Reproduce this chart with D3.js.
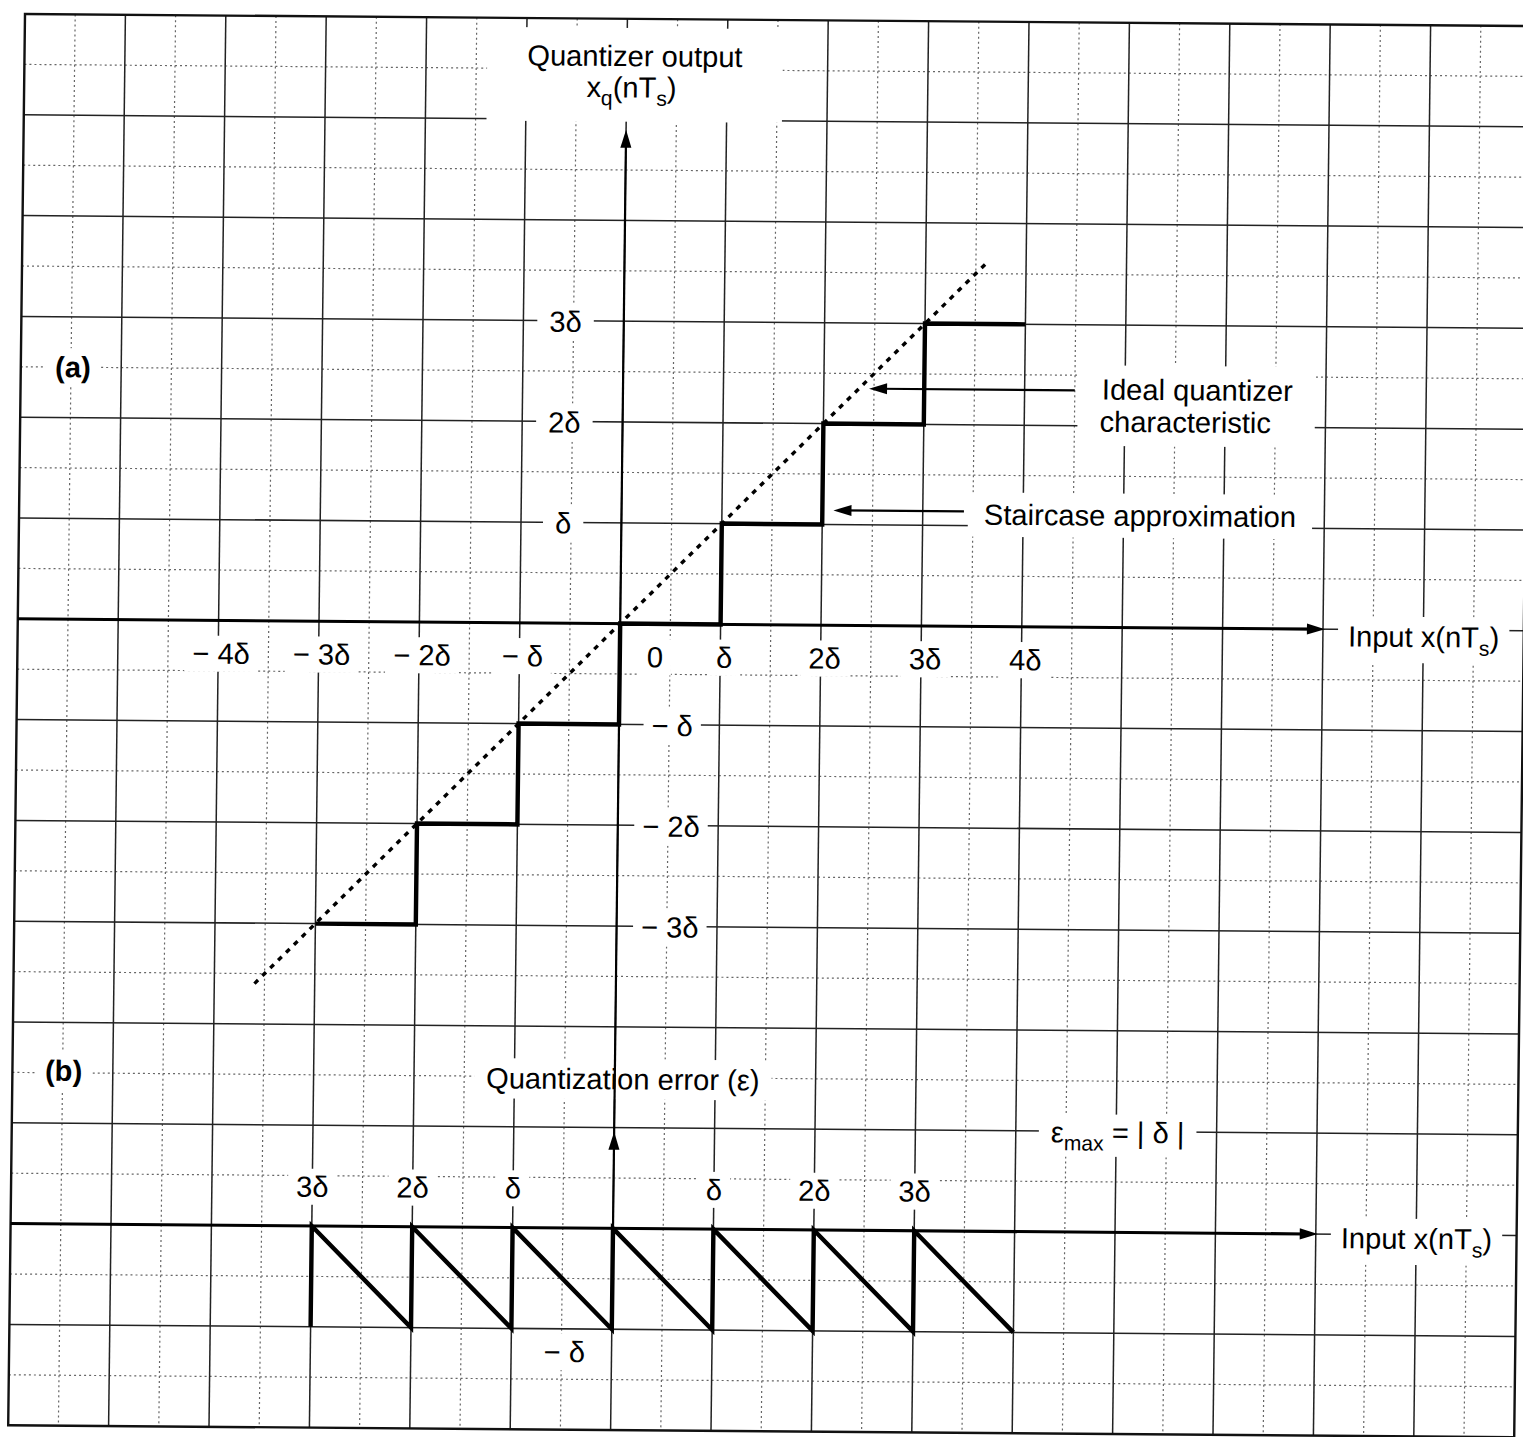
<!DOCTYPE html>
<html><head><meta charset="utf-8">
<script src="https://cdn.jsdelivr.net/npm/d3@7"></script>
<style>
html,body{margin:0;padding:0;background:#fff;}
svg{display:block;}
text{font-family:"Liberation Sans", Arial, Helvetica, sans-serif; fill:#000;}
</style></head><body>
<svg id="chart" width="1523" height="1437"></svg>
<script>
// ---------- data (in units of the step size δ) ----------
const stairX = [-3, -2, -1, 0, 1, 2, 3, 4];
const stairY = [-3, -2, -1, 0, 1, 2, 3, 3];
const idealX = [-3.6, 3.6];
const idealY = [-3.6, 3.6];
const errX = [-3, -3, -2, -2, -1, -1, 0, 0, 1, 1, 2, 2, 3, 3, 4];
const errY = [-1, 0, -1, 0, -1, 0, -1, 0, -1, 0, -1, 0, -1, 0, -1];
const xTicksA = [-4, -3, -2, -1, 0, 1, 2, 3, 4];
const xTickLabelsA = ["\u2212 4δ", "\u2212 3δ", "\u2212 2δ", "\u2212 δ", "0", "δ", "2δ", "3δ", "4δ"];
const yTicksA = [3, 2, 1, -1, -2, -3];
const yTickLabelsA = ["3δ", "2δ", "δ", "\u2212 δ", "\u2212 2δ", "\u2212 3δ"];
const xTicksB = [-3, -2, -1, 1, 2, 3];
const xTickLabelsB = ["3δ", "2δ", "δ", "δ", "2δ", "3δ"];
const yTicksB = [-1];
const yTickLabelsB = ["\u2212 δ"];

// ---------- setup ----------
const svg = d3.select('#chart');
svg.append('rect').attr('width', 1523).attr('height', 1437).attr('fill', '#fff');
// graph paper as scanned: slightly skewed sheet
const paper = svg.append('g').attr('transform', 'matrix(1.004,0.008,-0.012,1.008,25,14)');
const gGrid = paper.append('g');
const gBox = paper.append('g');
const gMark = paper.append('g');
const gText = paper.append('g');

const W = 1500, H = 1400;
const x = d3.scaleLinear().domain([-6, 9]).range([0, W]);
const yA = d3.scaleLinear().domain([6, -8]).range([0, H]);
const yB = d3.scaleLinear().domain([0, -1]).range([1200, 1300]);

// ---------- graph paper ----------
d3.range(50, W, 100).forEach(u => gGrid.append('line').attr('x1', u).attr('x2', u).attr('y1', 0).attr('y2', H)
  .attr('stroke', '#666').attr('stroke-width', 1.2).attr('stroke-dasharray', '2,3'));
d3.range(50, H, 100).forEach(v => gGrid.append('line').attr('x1', 0).attr('x2', W).attr('y1', v).attr('y2', v)
  .attr('stroke', '#666').attr('stroke-width', 1.2).attr('stroke-dasharray', '2,3'));
d3.range(100, W, 100).forEach(u => gGrid.append('line').attr('x1', u).attr('x2', u).attr('y1', 0).attr('y2', H)
  .attr('stroke', '#222').attr('stroke-width', 1.5));
d3.range(100, H, 100).forEach(v => gGrid.append('line').attr('x1', 0).attr('x2', W).attr('y1', v).attr('y2', v)
  .attr('stroke', '#222').attr('stroke-width', 1.5));
gGrid.append('rect').attr('x', 0).attr('y', 0).attr('width', W).attr('height', H)
  .attr('fill', 'none').attr('stroke', '#111').attr('stroke-width', 2.4);

// ---------- text helpers ----------
function addText(u, v, parts, opt = {}) {
  const size = opt.size || 29;
  const t = gText.append('text').attr('x', u).attr('y', v)
    .attr('text-anchor', opt.anchor || 'middle')
    .attr('font-size', size).attr('font-weight', opt.bold ? 'bold' : null);
  let shifted = 0;
  parts.forEach(p => {
    const isSub = Array.isArray(p);
    const s = t.append('tspan').text(isSub ? p[0] : p);
    if (isSub) { s.attr('font-size', Math.round(size * 0.72)).attr('dy', 8 - shifted); shifted = 8; }
    else if (shifted) { s.attr('dy', -shifted); shifted = 0; }
  });
  return t;
}
function knockout(sels, px, py) {
  let x0 = Infinity, y0 = Infinity, x1 = -Infinity, y1 = -Infinity;
  sels.forEach(s => {
    const b = s.node().getBBox();
    x0 = Math.min(x0, b.x); y0 = Math.min(y0, b.y);
    x1 = Math.max(x1, b.x + b.width); y1 = Math.max(y1, b.y + b.height);
  });
  gBox.append('rect').attr('x', x0 - px).attr('y', y0 - py)
    .attr('width', x1 - x0 + 2 * px).attr('height', y1 - y0 + 2 * py).attr('fill', '#fff');
}
function arrowHead(tipU, tipV, dir) { // dir: 'left' | 'right' | 'up'
  const L = 18, hw = 5.5;
  let d;
  if (dir === 'left') d = `M${tipU},${tipV}L${tipU + L},${tipV - hw}L${tipU + L},${tipV + hw}Z`;
  else if (dir === 'right') d = `M${tipU},${tipV}L${tipU - L},${tipV - hw}L${tipU - L},${tipV + hw}Z`;
  else d = `M${tipU},${tipV}L${tipU - hw},${tipV + L}L${tipU + hw},${tipV + L}Z`;
  gMark.append('path').attr('d', d).attr('fill', '#000');
}

// ---------- labels (a) ----------
const t1 = addText(608, 47, ["Quantizer output"]);
const t2 = addText(605, 78, ["x", ["q"], "(nT", ["s"], ")"]);
knockout([t1, t2], 40, 12);

knockout([addText(52, 360, ["(a)"], { bold: true })], 10, 3);
knockout([addText(51, 1058, ["(b)"], { bold: true })], 10, 3);

xTicksA.forEach((t, i) => {
  const u = x(t) + (t === 0 ? 35 : (t > 0 ? 4 : 3));
  knockout([addText(u, yA(0) + 43, [xTickLabelsA[i]])], 8, 2);
});
yTicksA.forEach((t, i) => {
  const u = t > 0 ? x(0) - 58 : x(0) + 53;
  knockout([addText(u, yA(t) + 11, [yTickLabelsA[i]])], t > 0 ? 12 : 8, 3);
});

const inA = addText(1325, yA(0) + 17, ["Input x(nT", ["s"], ")"], { anchor: 'start' });
knockout([inA], 10, 4);

const id1 = addText(1077, 374, ["Ideal quantizer"], { anchor: 'start' });
const id2 = addText(1075, 406, ["characteristic"], { anchor: 'start' });
knockout([id1, id2], 22, 8);
const st = addText(961, 499, ["Staircase approximation"], { anchor: 'start' });
knockout([st], 16, 6);

// ---------- labels (b) ----------
const qe = addText(608, 1062, ["Quantization error (ε)"]);
knockout([qe], 12, 4);
const em = addText(1035, 1111, ["ε", ["max"], " = | δ |"], { anchor: 'start' });
knockout([em], 12, 2);
xTicksB.forEach((t, i) => knockout([addText(x(t), yB(0) - 29, [xTickLabelsB[i]])], 8, 2));
yTicksB.forEach((t, i) => knockout([addText(x(-0.47), yB(t) + 33, [yTickLabelsB[i]])], 8, 2));
const inB = addText(1325, yB(0) + 14, ["Input x(nT", ["s"], ")"], { anchor: 'start' });
knockout([inB], 10, 4);

// ---------- axes ----------
gMark.append('line').attr('x1', 0).attr('x2', 1290).attr('y1', yA(0)).attr('y2', yA(0))
  .attr('stroke', '#000').attr('stroke-width', 3);
arrowHead(1302, yA(0), 'right');
gMark.append('line').attr('x1', 0).attr('x2', 1290).attr('y1', yB(0)).attr('y2', yB(0))
  .attr('stroke', '#000').attr('stroke-width', 3);
arrowHead(1302, yB(0), 'right');
gMark.append('line').attr('x1', x(0)).attr('x2', x(0)).attr('y1', yB(-1)).attr('y2', 118)
  .attr('stroke', '#000').attr('stroke-width', 2.2);
arrowHead(x(0), 110, 'up');
arrowHead(x(0), 1104, 'up');

// ---------- annotation arrows ----------
gMark.append('line').attr('x1', 1050).attr('x2', 855).attr('y1', 365).attr('y2', 365)
  .attr('stroke', '#000').attr('stroke-width', 2.2);
arrowHead(845, 365, 'left');
gMark.append('line').attr('x1', 941).attr('x2', 821).attr('y1', 486).attr('y2', 486)
  .attr('stroke', '#000').attr('stroke-width', 2.2);
arrowHead(811, 486, 'left');

// ---------- marks ----------
const idealPts = idealX.map((v, i) => [v, idealY[i]]);
gMark.append('path').attr('d', d3.line().x(d => x(d[0])).y(d => yA(d[1]))(idealPts))
  .attr('fill', 'none').attr('stroke', '#000').attr('stroke-width', 3.4).attr('stroke-dasharray', '5,6');

const stairPts = stairX.map((v, i) => [v, stairY[i]]);
gMark.append('path').attr('d', d3.line().curve(d3.curveStepAfter).x(d => x(d[0])).y(d => yA(d[1]))(stairPts))
  .attr('fill', 'none').attr('stroke', '#000').attr('stroke-width', 4.4).attr('stroke-linejoin', 'miter');

const errPts = errX.map((v, i) => [v, errY[i]]);
gMark.append('path').attr('d', d3.line().x(d => x(d[0])).y(d => yB(d[1]))(errPts))
  .attr('fill', 'none').attr('stroke', '#000').attr('stroke-width', 4.4).attr('stroke-linejoin', 'miter');
</script>
</body></html>
